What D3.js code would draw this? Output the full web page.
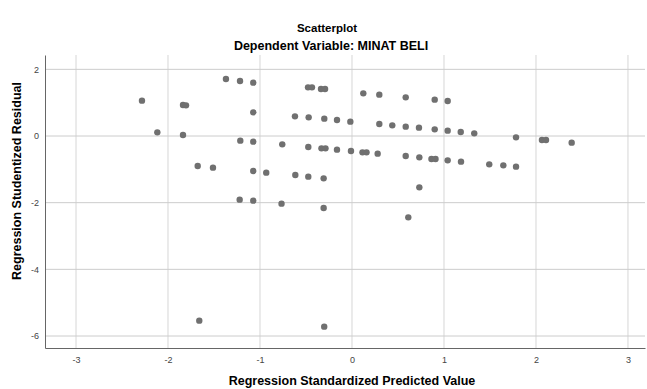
<!DOCTYPE html>
<html>
<head>
<meta charset="utf-8">
<script src="https://cdn.jsdelivr.net/npm/d3@7"></script>
<style>
  body { margin: 0; background: #fff; }
  svg { display: block; font-family: Arial, "Liberation Sans", sans-serif; }
</style>
</head>
<body>
<svg id="chart" width="647" height="389"></svg>
<script>
(function(){

  // standardized predicted value (x) and studentized residual (y)
  const predicted = [
    -1.370, -1.217, -1.073, -0.478, -0.435, -0.337, -0.293, 0.123, 0.297, 0.584,
    0.899, 1.040, -2.283, -1.837, -1.804, -2.116, -1.837, -1.073, -0.620, -0.471,
    -0.301, -0.163, -0.018, 0.297, 0.438, 0.584, 0.728, 0.899, 1.040, 1.182,
    1.329, 1.783, 2.065, 2.109, 2.388, -1.214, -1.073, -0.758, -0.475, -0.332,
    -0.288, -0.163, -0.011, 0.114, 0.158, 0.279, 0.584, 0.732, 0.864, 0.908,
    1.040, 1.185, 1.492, 1.645, 1.783, -1.677, -1.511, -1.073, -0.932, -0.616,
    -0.475, -0.308, 0.732, -1.221, -1.073, -0.766, -0.308, 0.612, -1.660, -0.302
  ];
  const residual = [
    1.71, 1.65, 1.60, 1.46, 1.46, 1.41, 1.41, 1.28, 1.24, 1.16,
    1.09, 1.05, 1.06, 0.93, 0.92, 0.11, 0.03, 0.71, 0.59, 0.56,
    0.52, 0.48, 0.43, 0.36, 0.32, 0.28, 0.25, 0.20, 0.16, 0.12,
    0.08, -0.04, -0.12, -0.12, -0.20, -0.14, -0.17, -0.25, -0.33, -0.37,
    -0.37, -0.41, -0.45, -0.49, -0.49, -0.53, -0.60, -0.64, -0.69, -0.69,
    -0.73, -0.77, -0.85, -0.88, -0.92, -0.90, -0.95, -1.05, -1.10, -1.17,
    -1.22, -1.27, -1.54, -1.91, -1.94, -2.03, -2.16, -2.44, -5.54, -5.72
  ];
  const xTicks = [-3, -2, -1, 0, 1, 2, 3];
  const yTicks = [2, 0, -2, -4, -6];

  const points = predicted.map((x, i) => ({x: x, y: residual[i]}));

  const margin = {top: 55, right: 2, bottom: 41, left: 45},
    width = 647 - margin.left - margin.right,
    height = 389 - margin.top - margin.bottom;

  const xScale = d3.scaleLinear().domain([-3.337, 3.185]).range([0, width]);
  const yScale = d3.scaleLinear().domain([-6.36, 2.43]).range([height, 0]);

  const svg = d3.select("#chart");
  const g = svg.append("g")
    .attr("transform", "translate(" + margin.left + "," + margin.top + ")");

  // grid
  g.append("g")
    .selectAll("line")
    .data(xTicks)
    .enter().append("line")
      .attr("x1", d => xScale(d)).attr("x2", d => xScale(d))
      .attr("y1", 0).attr("y2", height)
      .attr("stroke", "#d6d6d6").attr("stroke-width", 1);

  g.append("g")
    .selectAll("line")
    .data(yTicks)
    .enter().append("line")
      .attr("x1", 0).attr("x2", width)
      .attr("y1", d => yScale(d)).attr("y2", d => yScale(d))
      .attr("stroke", "#cccccc").attr("stroke-width", 1);

  // axes - plain hyphen minus like the original
  const fmt = d => String(d);
  const xAxis = d3.axisBottom(xScale).tickValues(xTicks).tickFormat(fmt).tickSize(0).tickPadding(9);
  const yAxis = d3.axisLeft(yScale).tickValues(yTicks).tickFormat(fmt).tickSize(0).tickPadding(6);

  const gx = g.append("g")
    .attr("transform", "translate(0," + height + ")")
    .call(xAxis);
  const gy = g.append("g").call(yAxis);

  [gx, gy].forEach(a => {
    a.select(".domain").attr("stroke", "#666");
    a.selectAll("text").style("font-size", "9px").attr("fill", "#444");
  });

  // points
  g.append("g")
    .selectAll("circle")
    .data(points)
    .enter().append("circle")
      .attr("cx", d => xScale(d.x))
      .attr("cy", d => yScale(d.y))
      .attr("r", 3.2)
      .attr("fill", "#707070");

  // titles
  svg.append("text")
    .attr("x", 327).attr("y", 32)
    .attr("text-anchor", "middle")
    .style("font-size", "11.5px").style("font-weight", "bold")
    .text("Scatterplot");

  svg.append("text")
    .attr("x", 331).attr("y", 50)
    .attr("text-anchor", "middle")
    .style("font-size", "12.5px").style("font-weight", "bold")
    .text("Dependent Variable: MINAT BELI");

  svg.append("text")
    .attr("x", 352).attr("y", 385)
    .attr("text-anchor", "middle")
    .style("font-size", "12.5px").style("font-weight", "bold")
    .text("Regression Standardized Predicted Value");

  svg.append("text")
    .attr("transform", "translate(21,181) rotate(-90)")
    .attr("text-anchor", "middle")
    .style("font-size", "12.5px").style("font-weight", "bold")
    .text("Regression Studentized Residual");

})();
</script>
</body>
</html>
